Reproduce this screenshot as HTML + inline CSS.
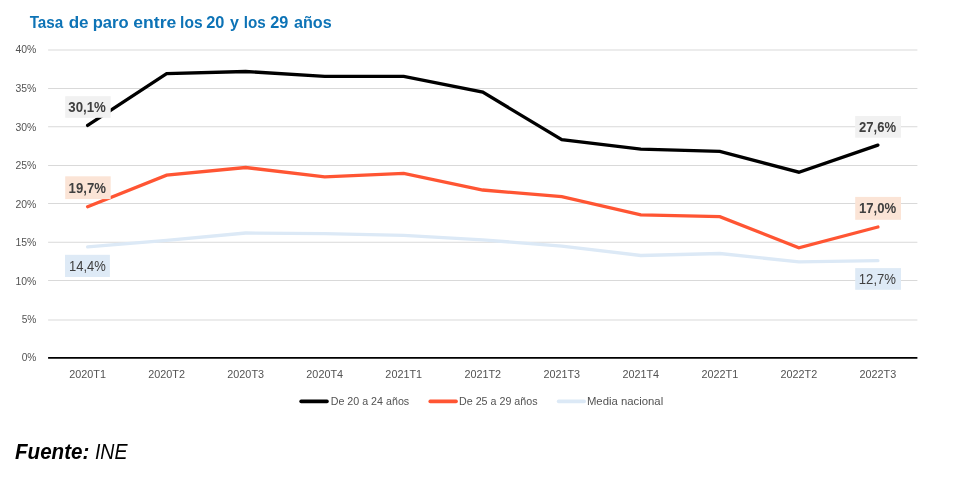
<!DOCTYPE html>
<html lang="es"><head><meta charset="utf-8"><title>Tasa de paro entre los 20 y los 29 años</title>
<style>html,body{margin:0;padding:0;background:#fff;overflow:hidden}svg{display:block}text{font-family:"Liberation Sans", sans-serif}</style>
</head><body>
<svg width="955" height="479" viewBox="0 0 955 479">
<rect width="955" height="479" fill="#ffffff"/>
<text y="27.5" font-size="16.4" font-weight="bold" fill="#0d73b6">
<tspan x="29.7" textLength="33.6" lengthAdjust="spacingAndGlyphs">Tasa</tspan> 
<tspan x="68.7" textLength="19.9" lengthAdjust="spacingAndGlyphs">de</tspan> 
<tspan x="92.7" textLength="35.9" lengthAdjust="spacingAndGlyphs">paro</tspan> 
<tspan x="133.3" textLength="43.0" lengthAdjust="spacingAndGlyphs">entre</tspan> 
<tspan x="180.1" textLength="22.5" lengthAdjust="spacingAndGlyphs">los</tspan> 
<tspan x="206.2" textLength="18.2" lengthAdjust="spacingAndGlyphs">20</tspan> 
<tspan x="229.9" textLength="8.9" lengthAdjust="spacingAndGlyphs">y</tspan> 
<tspan x="243.8" textLength="22.0" lengthAdjust="spacingAndGlyphs">los</tspan> 
<tspan x="270.3" textLength="18.1" lengthAdjust="spacingAndGlyphs">29</tspan> 
<tspan x="294.0" textLength="37.7" lengthAdjust="spacingAndGlyphs">años</tspan>
</text>
<line x1="48.1" y1="320.00" x2="917.4" y2="320.00" stroke="#d9d9d9" stroke-width="1.05"/>
<line x1="48.1" y1="280.50" x2="917.4" y2="280.50" stroke="#d9d9d9" stroke-width="1.05"/>
<line x1="48.1" y1="242.30" x2="917.4" y2="242.30" stroke="#d9d9d9" stroke-width="1.05"/>
<line x1="48.1" y1="203.40" x2="917.4" y2="203.40" stroke="#d9d9d9" stroke-width="1.05"/>
<line x1="48.1" y1="165.40" x2="917.4" y2="165.40" stroke="#d9d9d9" stroke-width="1.05"/>
<line x1="48.1" y1="126.80" x2="917.4" y2="126.80" stroke="#d9d9d9" stroke-width="1.05"/>
<line x1="48.1" y1="88.50" x2="917.4" y2="88.50" stroke="#d9d9d9" stroke-width="1.05"/>
<line x1="48.1" y1="49.90" x2="917.4" y2="49.90" stroke="#d9d9d9" stroke-width="1.05"/>
<text x="21.7" y="361.40" font-size="10.8" fill="#525252" textLength="14.7" lengthAdjust="spacingAndGlyphs">0%</text>
<text x="21.7" y="323.00" font-size="10.8" fill="#525252" textLength="14.7" lengthAdjust="spacingAndGlyphs">5%</text>
<text x="15.5" y="284.80" font-size="10.8" fill="#525252" textLength="20.9" lengthAdjust="spacingAndGlyphs">10%</text>
<text x="15.5" y="245.90" font-size="10.8" fill="#525252" textLength="20.9" lengthAdjust="spacingAndGlyphs">15%</text>
<text x="15.5" y="207.80" font-size="10.8" fill="#525252" textLength="20.9" lengthAdjust="spacingAndGlyphs">20%</text>
<text x="15.5" y="168.90" font-size="10.8" fill="#525252" textLength="20.9" lengthAdjust="spacingAndGlyphs">25%</text>
<text x="15.5" y="130.80" font-size="10.8" fill="#525252" textLength="20.9" lengthAdjust="spacingAndGlyphs">30%</text>
<text x="15.5" y="91.50" font-size="10.8" fill="#525252" textLength="20.9" lengthAdjust="spacingAndGlyphs">35%</text>
<text x="15.5" y="53.00" font-size="10.8" fill="#525252" textLength="20.9" lengthAdjust="spacingAndGlyphs">40%</text>
<polyline points="87.61,246.80 166.64,240.40 245.67,233.00 324.70,233.70 403.72,235.30 482.75,239.80 561.78,246.10 640.80,255.50 719.83,253.50 798.86,261.90 877.89,260.70" fill="none" stroke="#dce9f6" stroke-width="3.3" stroke-linecap="round" stroke-linejoin="miter"/>
<polyline points="87.61,206.70 166.64,175.20 245.67,167.50 324.70,176.90 403.72,173.40 482.75,190.00 561.78,196.70 640.80,214.80 719.83,216.70 798.86,247.80 877.89,227.00" fill="none" stroke="#ff5533" stroke-width="3.3" stroke-linecap="round" stroke-linejoin="miter"/>
<polyline points="87.61,125.40 166.64,73.70 245.67,71.50 324.70,76.40 403.72,76.40 482.75,92.10 561.78,139.70 640.80,149.10 719.83,151.30 798.86,172.20 877.89,145.10" fill="none" stroke="#000000" stroke-width="3.3" stroke-linecap="round" stroke-linejoin="miter"/>
<line x1="48.1" y1="357.9" x2="917.4" y2="357.9" stroke="#000" stroke-width="1.7"/>
<text x="69.26" y="378.2" font-size="10.9" fill="#525252" textLength="36.7" lengthAdjust="spacingAndGlyphs">2020T1</text>
<text x="148.29" y="378.2" font-size="10.9" fill="#525252" textLength="36.7" lengthAdjust="spacingAndGlyphs">2020T2</text>
<text x="227.32" y="378.2" font-size="10.9" fill="#525252" textLength="36.7" lengthAdjust="spacingAndGlyphs">2020T3</text>
<text x="306.35" y="378.2" font-size="10.9" fill="#525252" textLength="36.7" lengthAdjust="spacingAndGlyphs">2020T4</text>
<text x="385.37" y="378.2" font-size="10.9" fill="#525252" textLength="36.7" lengthAdjust="spacingAndGlyphs">2021T1</text>
<text x="464.40" y="378.2" font-size="10.9" fill="#525252" textLength="36.7" lengthAdjust="spacingAndGlyphs">2021T2</text>
<text x="543.43" y="378.2" font-size="10.9" fill="#525252" textLength="36.7" lengthAdjust="spacingAndGlyphs">2021T3</text>
<text x="622.45" y="378.2" font-size="10.9" fill="#525252" textLength="36.7" lengthAdjust="spacingAndGlyphs">2021T4</text>
<text x="701.48" y="378.2" font-size="10.9" fill="#525252" textLength="36.7" lengthAdjust="spacingAndGlyphs">2022T1</text>
<text x="780.51" y="378.2" font-size="10.9" fill="#525252" textLength="36.7" lengthAdjust="spacingAndGlyphs">2022T2</text>
<text x="859.54" y="378.2" font-size="10.9" fill="#525252" textLength="36.7" lengthAdjust="spacingAndGlyphs">2022T3</text>
<rect x="65.2" y="96.2" width="45.5" height="21.6" fill="#f1f1f1"/>
<text x="68.3" y="112.1" font-size="13.8" font-weight="bold" fill="#404040" textLength="37.6" lengthAdjust="spacingAndGlyphs">30,1%</text>
<rect x="65.2" y="176.3" width="45.5" height="22.8" fill="#fbe4d6"/>
<text x="68.6" y="192.7" font-size="13.8" font-weight="bold" fill="#404040" textLength="37.3" lengthAdjust="spacingAndGlyphs">19,7%</text>
<rect x="65.0" y="254.8" width="44.9" height="22.2" fill="#deeaf6"/>
<text x="69.0" y="270.6" font-size="13.8" fill="#404040" textLength="36.8" lengthAdjust="spacingAndGlyphs">14,4%</text>
<rect x="855.2" y="116.0" width="45.8" height="21.7" fill="#f1f1f1"/>
<text x="859.1" y="131.6" font-size="13.8" font-weight="bold" fill="#404040" textLength="37.0" lengthAdjust="spacingAndGlyphs">27,6%</text>
<rect x="855.2" y="196.9" width="45.8" height="22.9" fill="#fbe4d6"/>
<text x="858.9" y="213.0" font-size="13.8" font-weight="bold" fill="#404040" textLength="37.2" lengthAdjust="spacingAndGlyphs">17,0%</text>
<rect x="855.2" y="268.1" width="45.8" height="21.7" fill="#deeaf6"/>
<text x="858.8" y="283.8" font-size="13.8" fill="#404040" textLength="37.2" lengthAdjust="spacingAndGlyphs">12,7%</text>
<line x1="301.1" y1="401.4" x2="327.0" y2="401.4" stroke="#000000" stroke-width="3.6" stroke-linecap="round"/>
<text x="330.7" y="404.7" font-size="11.1" fill="#525252" textLength="78.5" lengthAdjust="spacingAndGlyphs">De 20 a 24 años</text>
<line x1="430.2" y1="401.4" x2="456.1" y2="401.4" stroke="#ff5533" stroke-width="3.6" stroke-linecap="round"/>
<text x="459.0" y="404.7" font-size="11.1" fill="#525252" textLength="78.6" lengthAdjust="spacingAndGlyphs">De 25 a 29 años</text>
<line x1="558.6" y1="401.4" x2="584.2" y2="401.4" stroke="#dce9f6" stroke-width="3.6" stroke-linecap="round"/>
<text x="586.9" y="404.7" font-size="11.1" fill="#525252" textLength="76.3" lengthAdjust="spacingAndGlyphs">Media nacional</text>
<text x="15.0" y="458.7" font-size="22" font-style="italic" fill="#000"><tspan font-weight="bold" textLength="74.3" lengthAdjust="spacingAndGlyphs">Fuente:</tspan> <tspan x="94.9" textLength="32.6" lengthAdjust="spacingAndGlyphs">INE</tspan></text>
</svg>
</body></html>
